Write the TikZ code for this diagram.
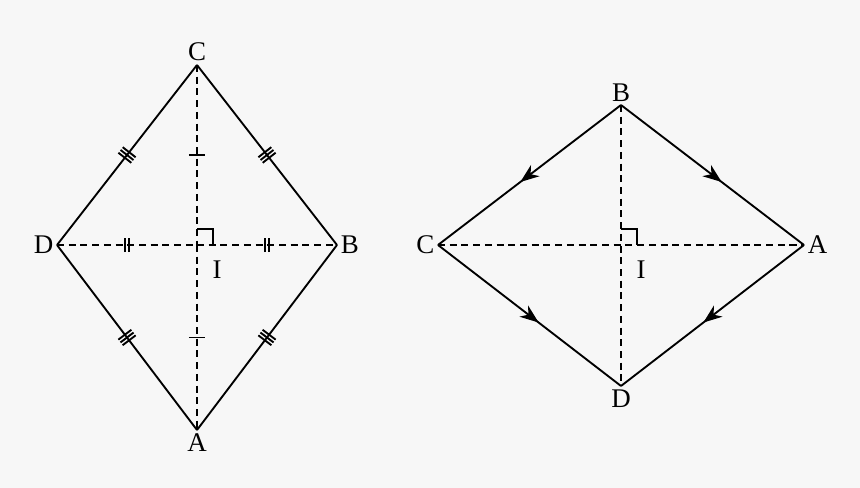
\documentclass[tikz,border=0pt]{standalone}
\usepackage{fontspec}
\setmainfont{Liberation Serif}
\usetikzlibrary{decorations.markings,arrows.meta}
\tikzset{
  side/.style={line width=1.6pt},
  diag/.style={line width=1.6pt, dash pattern=on 6pt off 4pt},
  tk/.style={line width=1.6pt, solid},
  tickone/.style={postaction={decorate, decoration={markings,
    mark=at position 0.5 with {\draw[tk] (0,-7pt)--(0,7pt);}}}},
  ticktwo/.style={postaction={decorate, decoration={markings,
    mark=at position 0.5 with {\draw[tk] (-1.8pt,-6pt)--(-1.8pt,6pt) (1.8pt,-6pt)--(1.8pt,6pt);}}}},
  tickthree/.style={postaction={decorate, decoration={markings,
    mark=at position 0.5 with {\draw[tk] (-3pt,-7pt)--(-3pt,7pt) (0,-7pt)--(0,7pt) (3pt,-7pt)--(3pt,7pt);}}}},
  midarrow/.style={postaction={decorate, decoration={markings,
    mark=at position 0.55 with {\arrow{Stealth[length=16pt,width=12pt,inset=5pt]}}}}},
  lbl/.style={font=\fontsize{23}{26}\selectfont, inner sep=3pt}
}
\begin{document}
\begin{tikzpicture}[x=0.03cm,y=-0.03cm]
\fill[gray!6] (0,0) rectangle (860,488);
\useasboundingbox (0,0) rectangle (860,488);
% left rhombus
\coordinate (C1) at (197,65);
\coordinate (D1) at (57,245);
\coordinate (B1) at (337,245);
\coordinate (A1) at (197,430);
\coordinate (I1) at (197,245);
\node[lbl, above] at (C1) {C};
\node[lbl, left] at (D1) {D};
\node[lbl, right] at (B1) {B};
\node[lbl, below] at (A1) {A};
\node[lbl] at (217,270) {I};
\draw[side, tickthree] (C1) -- (D1);
\draw[side, tickthree] (C1) -- (B1);
\draw[side, tickthree] (D1) -- (A1);
\draw[side, tickthree] (B1) -- (A1);
\draw[diag, ticktwo] (D1) -- (I1);
\draw[diag, ticktwo] (I1) -- (B1);
\draw[diag, tickone] (C1) -- (I1);
\draw[diag, tickone] (I1) -- (A1);
\draw[side] (197,229) -- (213,229) -- (213,245);
% right rhombus
\coordinate (B2) at (621,105);
\coordinate (C2) at (438,245);
\coordinate (A2) at (804,245);
\coordinate (D2) at (621,386);
\coordinate (I2) at (621,245);
\node[lbl, above] at (B2) {B};
\node[lbl, left] at (C2) {C};
\node[lbl, right] at (A2) {A};
\node[lbl, below] at (D2) {D};
\node[lbl] at (641,270) {I};
\draw[side, midarrow] (B2) -- (C2);
\draw[side, midarrow] (B2) -- (A2);
\draw[side, midarrow] (C2) -- (D2);
\draw[side, midarrow] (A2) -- (D2);
\draw[diag] (C2) -- (A2);
\draw[diag] (B2) -- (D2);
\draw[side] (621,229) -- (637,229) -- (637,245);
\end{tikzpicture}
\end{document}
